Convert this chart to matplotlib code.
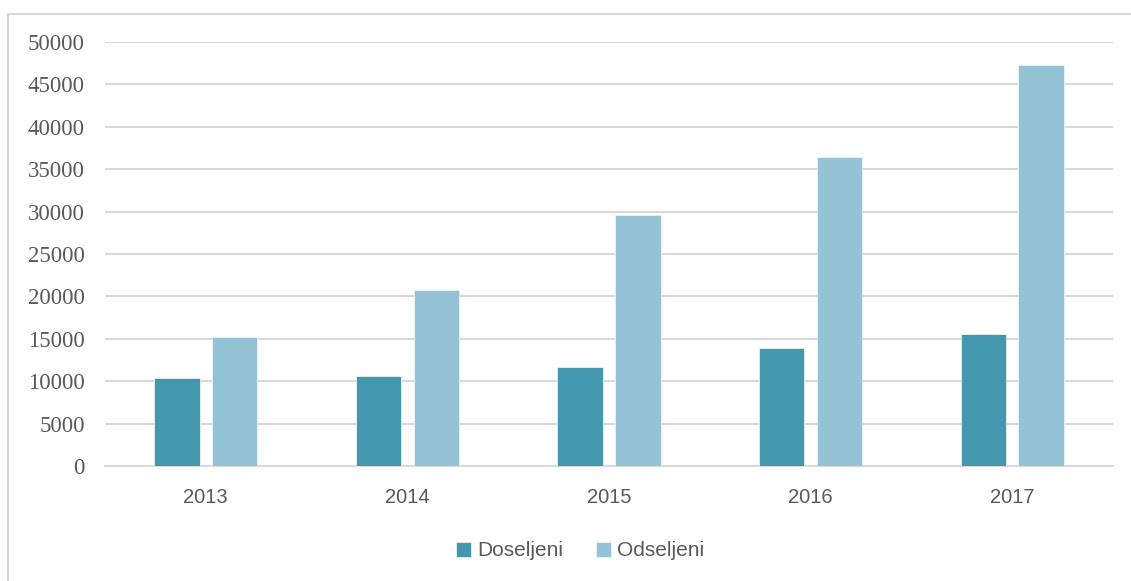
import numpy as np
import matplotlib
matplotlib.use('Agg')
import matplotlib.pyplot as plt
from matplotlib.patches import Rectangle

years = ['2013', '2014', '2015', '2016', '2017']
doseljeni = [10400, 10650, 11700, 13950, 15550]
odseljeni = [15200, 20800, 29600, 36450, 47300]
y_ticks = [0, 5000, 10000, 15000, 20000, 25000, 30000, 35000, 40000, 45000, 50000]

c_dos = '#4398AF'
c_ods = '#93C3D5'
txt = '#595959'
grid = '#D9D9D9'

fig = plt.figure(figsize=(11.31, 5.81), dpi=100, facecolor='white')

# outer chart border
fig.patches.append(Rectangle((8/1131, -0.01), 1.0, 1 - 14/581 + 0.01,
                             transform=fig.transFigure, fill=False,
                             edgecolor='#D9D9D9', linewidth=1.5))

ax = fig.add_axes([105/1131, 1 - 466/581, (1113 - 105)/1131, (466 - 42)/581])
x = np.arange(len(years))
w = 0.225
ax.bar(x - 0.143, doseljeni, w, color=c_dos, edgecolor='#e8f2f5', linewidth=0.6,
       label='Doseljeni', zorder=3)
ax.bar(x + 0.143, odseljeni, w, color=c_ods, edgecolor='#e8f2f5', linewidth=0.6,
       label='Odseljeni', zorder=3)

ax.set_xlim(-0.5, len(years) - 0.5)
ax.set_ylim(0, 50000)
ax.set_yticks(y_ticks)
ax.set_yticklabels([str(v) for v in y_ticks], fontfamily='Liberation Serif',
                   fontsize=16.5, color=txt)
ax.set_xticks(x)
ax.set_xticklabels(years, fontfamily='Liberation Sans', fontsize=14.5, color=txt)
ax.tick_params(axis='both', length=0)
ax.tick_params(axis='y', pad=14.5)
ax.tick_params(axis='x', pad=15.5)

ax.grid(axis='y', color=grid, linewidth=1.5, zorder=0)
for s in ['top', 'right', 'left']:
    ax.spines[s].set_visible(False)
ax.spines['bottom'].set_color(grid)
ax.spines['bottom'].set_linewidth(1.5)

leg = fig.legend(loc='center', bbox_to_anchor=(580/1131, 1 - 551/581), ncol=2,
                 frameon=False, handlelength=0.7, handleheight=0.7,
                 handletextpad=0.3, columnspacing=1.6,
                 prop={'family': 'Liberation Sans', 'size': 15})
for t in leg.get_texts():
    t.set_color(txt)

plt.savefig('out.png', dpi=100, facecolor='white')
